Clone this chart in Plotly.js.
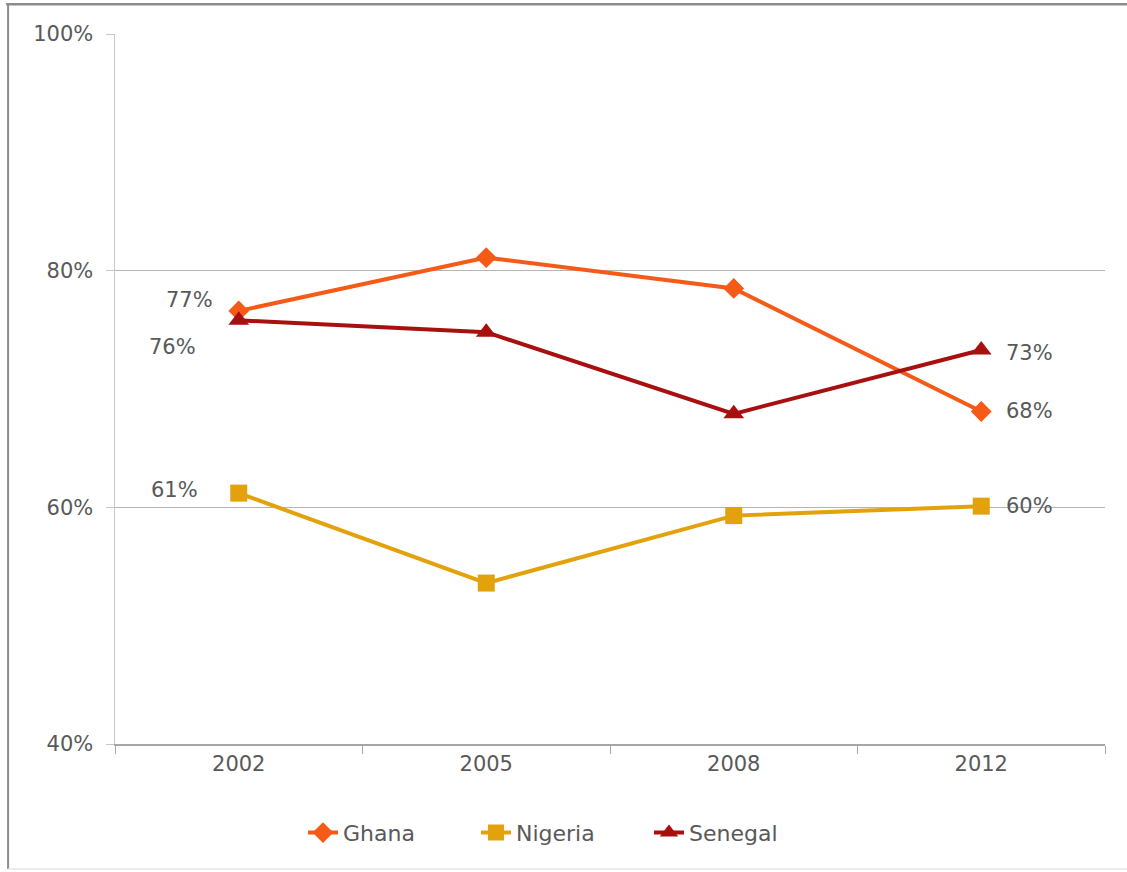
<!DOCTYPE html>
<html>
<head>
<meta charset="utf-8">
<script src="https://cdn.plot.ly/plotly-3.0.1.min.js"></script>
<style>html,body{margin:0;padding:0;background:#fff;}#chart{width:1127px;height:872px;}</style>
</head>
<body>
<div id="chart"></div>
<script>
const years = ['2002', '2005', '2008', '2012'];
const ghana = [76.6, 81.1, 78.5, 68.1];
const nigeria = [61.2, 53.6, 59.3, 60.1];
const senegal = [75.8, 74.8, 67.9, 73.3];
const seriesNames = ['Ghana', 'Nigeria', 'Senegal'];
const yTickVals = [40, 60, 80, 100];
const yTickText = ['40%', '60%', '80%', '100%'];

const colors = ['#F55A17', '#E3A10C', '#A80F0F'];
const symbols = ['diamond', 'square', 'triangle-up'];
const sizes = [16, 17, 18];
const seriesData = [ghana, nigeria, senegal];

const traces = seriesData.map((vals, i) => ({
  type: 'scatter', mode: 'lines+markers', name: seriesNames[i],
  x: years, y: vals,
  line: {color: colors[i], width: 4},
  marker: {symbol: symbols[i], size: sizes[i], color: colors[i]},
  hoverinfo: 'skip'
}));

// end labels: [leftShiftX, leftShiftY, rightShiftY]
const labelOffsets = [[-24, 11, 0], [-39, 3, 0], [-41, -27, -3]];
const annotations = [];
const lastIdx = years.length - 1;
seriesData.forEach((vals, i) => {
  const first = vals[0], last = vals[lastIdx];
  annotations.push({x: 0, y: first, xref: 'x', yref: 'y', text: Math.round(first) + '%',
    showarrow: false, xanchor: 'right', yanchor: 'middle', xshift: labelOffsets[i][0], yshift: labelOffsets[i][1],
    font: {size: 21, color: '#595959'}});
  annotations.push({x: lastIdx, y: last, xref: 'x', yref: 'y', text: Math.round(last) + '%',
    showarrow: false, xanchor: 'left', yanchor: 'middle', xshift: 23, yshift: labelOffsets[i][2],
    font: {size: 21, color: '#595959'}});
});

const layout = {
  width: 1127, height: 872,
  margin: {l: 115, r: 22, t: 34, b: 128},
  paper_bgcolor: '#ffffff', plot_bgcolor: '#ffffff',
  font: {family: 'DejaVu Sans, sans-serif', size: 21, color: '#595959'},
  showlegend: true,
  legend: {orientation: 'h', x: 0.452, xanchor: 'center', y: -0.125, yanchor: 'middle',
    font: {size: 22, color: '#595959'}, entrywidth: 128, entrywidthmode: 'pixels', tracegroupgap: 0},
  xaxis: {type: 'category', range: [-0.5, 3.5], showgrid: false, zeroline: false,
    showline: true, linecolor: '#a6a6a6', linewidth: 1.5,
    ticks: 'outside', tickson: 'boundaries', ticklen: 8, tickcolor: '#a6a6a6',
    tickfont: {size: 21, color: '#595959'}, fixedrange: true},
  yaxis: {range: [40, 100], tickvals: yTickVals, ticktext: yTickText,
    showgrid: true, gridcolor: '#b5b5b5', gridwidth: 1.2, zeroline: false,
    showline: true, linecolor: '#c8c8c8', linewidth: 1.5,
    ticks: 'outside', ticklen: 8, tickcolor: '#c8c8c8', ticklabelstandoff: 8,
    tickfont: {size: 21, color: '#595959'}, fixedrange: true},
  annotations: annotations,
  shapes: [
    {type: 'line', xref: 'paper', yref: 'paper', x0: -0.11, x1: 1.03, y0: 1.042, y1: 1.042,
      line: {color: '#8c8c8c', width: 2.5}},
    {type: 'line', xref: 'paper', yref: 'paper', x0: -0.108, x1: -0.108, y0: 1.042, y1: -0.176,
      line: {color: '#8c8c8c', width: 2}},
    {type: 'line', xref: 'paper', yref: 'paper', x0: -0.108, x1: 1.03, y0: -0.176, y1: -0.176,
      line: {color: '#e6e6e6', width: 1.5}}
  ]
};

Plotly.newPlot('chart', traces, layout, {displayModeBar: false, staticPlot: true});
</script>
</body>
</html>
